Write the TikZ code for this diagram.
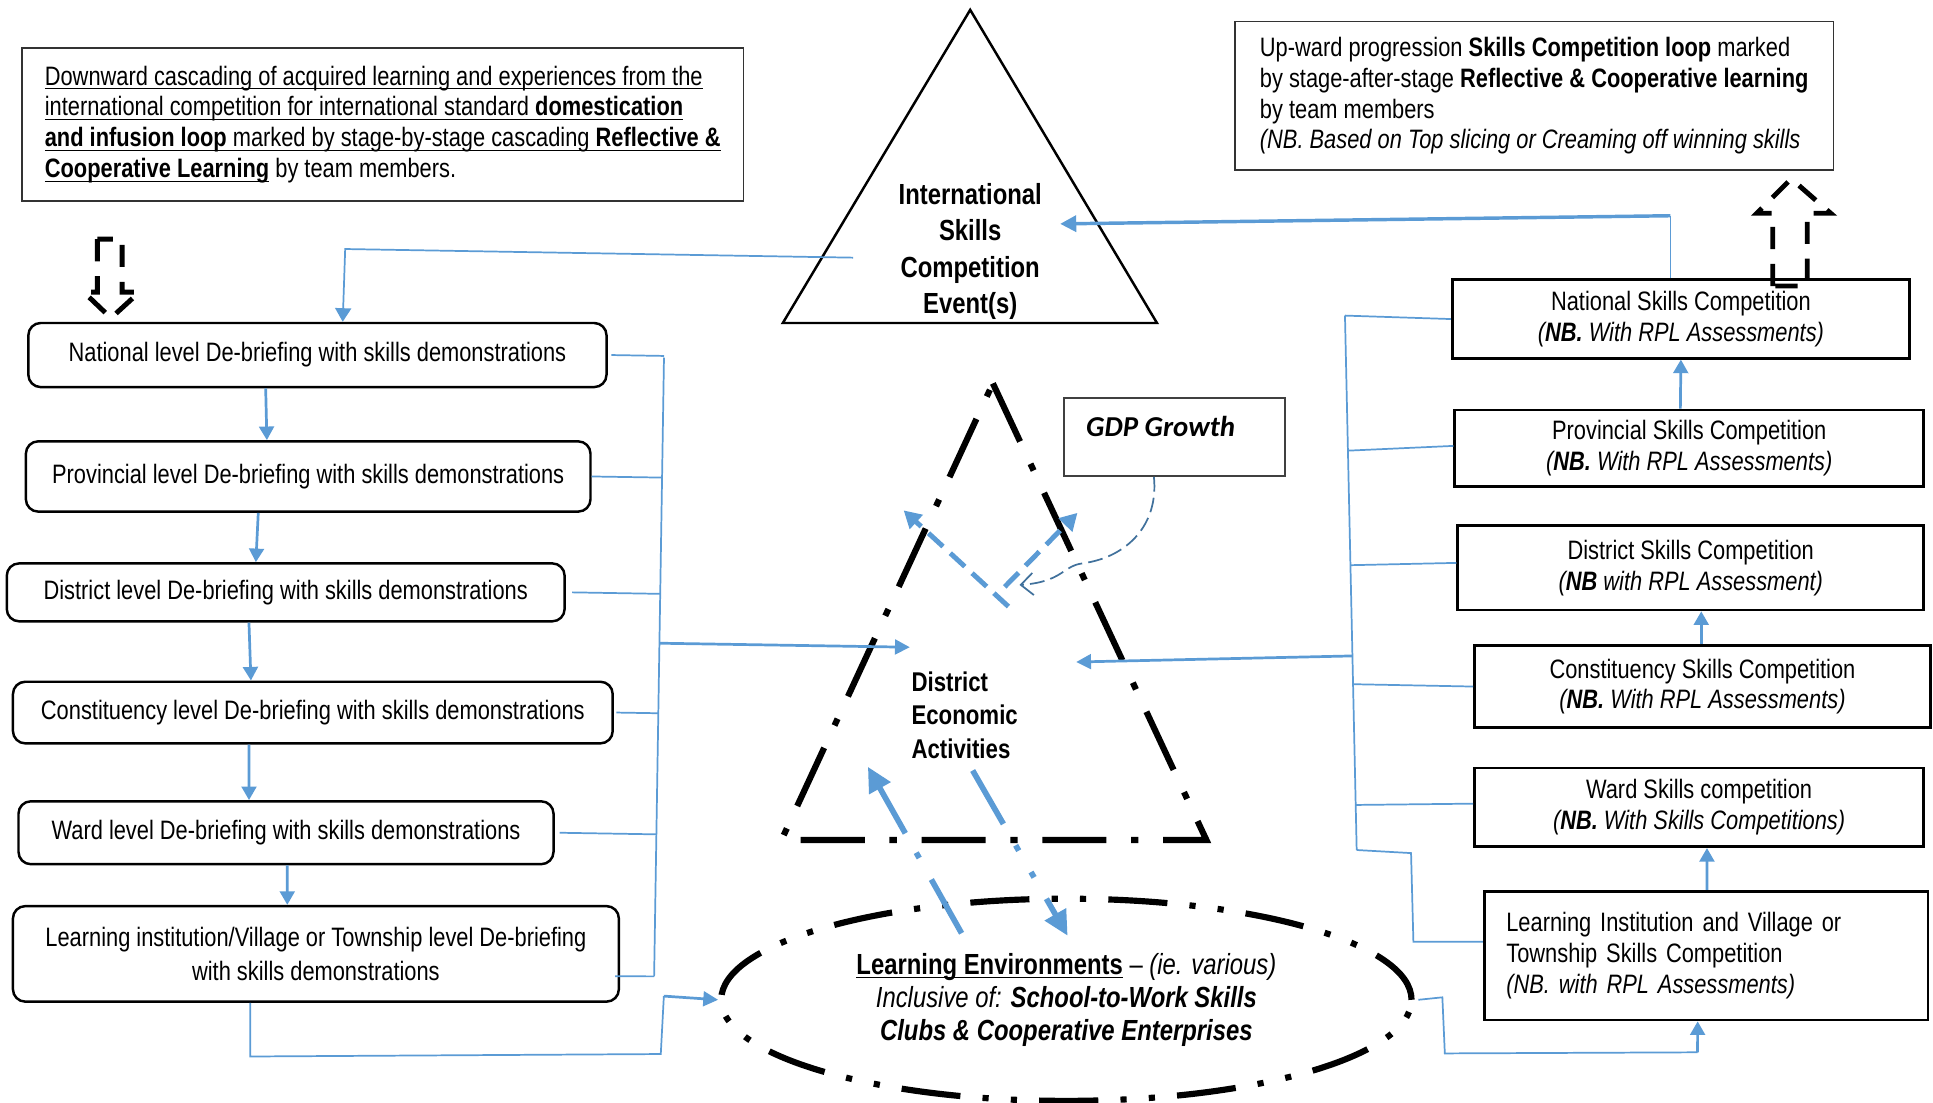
\documentclass[tikz,border=0pt]{standalone}
\usepackage{fontspec}
\setmainfont{Liberation Sans}[FakeStretch=0.82]
\newfontfamily\gdpfont{Carlito}
\usetikzlibrary{arrows.meta,shapes.geometric,calc}
\definecolor{bl}{HTML}{5B9BD5}
\definecolor{bld}{HTML}{41719C}
\newcommand{\myul}[1]{\underline{\raisebox{0pt}[\height][0pt]{#1}}}
\tikzset{
  lbox/.style={draw, line width=1pt, rounded corners=5pt, inner sep=0pt, align=center, font=\fontsize{10.8}{12.5}\selectfont},
  rbox/.style={draw, line width=1.1pt, inner sep=0pt, align=center, font=\fontsize{10.8}{12.4}\selectfont},
  notebox/.style={draw=black!80, line width=0.6pt, inner sep=0pt, align=left, font=\fontsize{10.8}{12.5}\selectfont},
  conn/.style={color=bl, line width=0.7pt},
  arr/.style={color=bl, line width=1.1pt, -{Triangle[length=5.5pt,width=6pt]}},
  arrm/.style={color=bl, line width=1.1pt, -{Triangle[length=6pt,width=6pt]}},
  arrt/.style={color=bl, line width=1.4pt, -{Triangle[length=6.5pt,width=6.5pt]}},
  dasharr/.style={color=bl, line width=2pt, dash pattern=on 8pt off 4pt, -{Triangle[length=7pt,width=7.5pt]}},
  uaarr/.style={color=bl, line width=2.3pt, dash pattern=on 25pt off 10pt on 2.5pt off 9pt, -{Triangle[length=10pt,width=9.5pt]}},
  daarr/.style={color=bl, line width=2.3pt, dash pattern=on 25pt off 10pt on 2.5pt off 10pt on 2.5pt off 10pt, -{Triangle[length=10pt,width=9.5pt]}},
  gdparr/.style={color=bld, line width=0.7pt, dash pattern=on 6pt off 2.5pt, -{Straight Barb[length=5pt,width=9pt]}},
  blkdash/.style={draw=black, line width=2pt, dash pattern=on 9pt off 6pt},
  dtri/.style={draw=black, line width=2.5pt, dash pattern=on 26pt off 10pt on 3pt off 10pt},
  envell/.style={ellipse, draw, line width=2.5pt, dash pattern=on 24pt off 9pt on 2.5pt off 9pt on 2.5pt off 9pt, minimum width=280pt, minimum height=82pt, inner sep=0pt, align=center, font=\fontsize{11.8}{13.5}\selectfont},
  gdpbox/.style={draw=black!75, line width=0.8pt, inner sep=0pt}
}
\begin{document}
\begin{tikzpicture}[x=0.5pt,y=-0.5pt]
\useasboundingbox (0,0) rectangle (1568,894);

% note boxes
\node[notebox, minimum width=292.5pt, minimum height=62pt] (lnote) at (310.5,101)
 {\myul{Downward cascading of acquired learning and experiences from the}\\
  \myul{international competition for international standard \textbf{domestication}}\\
  \myul{\textbf{and infusion loop} marked by stage-by-stage cascading \textbf{Reflective \&}}\\
  \myul{\textbf{Cooperative Learning}} by team members.};
\node[notebox, minimum width=242.75pt, minimum height=60.15pt] (rnote) at (1244.5,77.75)
 {Up-ward progression \textbf{Skills Competition loop} marked\\
  by stage-after-stage \textbf{Reflective \& Cooperative learning}\\
  by team members\\
  \textit{(NB. Based on Top slicing or Creaming off winning skills}};

% international triangle
\coordinate (ia) at (787,8);
\coordinate (ibl) at (635,262);
\coordinate (ibr) at (938.5,262);
\draw[line width=1pt] (ia) -- (ibr) -- (ibl) -- cycle;
\node[font=\bfseries\fontsize{11.8}{14.7}\selectfont, align=center, inner sep=0pt] (intl) at (787,204)
 {International\\Skills\\Competition\\Event(s)};

% district economic triangle
\coordinate (dta) at (805.4,311);
\coordinate (dtbl) at (633.9,681.4);
\coordinate (dtbr) at (978.6,681.4);
\draw[dtri] (dta) -- (dtbr) -- (dtbl) -- cycle;
\node[font=\bfseries\fontsize{11}{13.5}\selectfont, align=left, anchor=west, inner sep=0pt] (dea) at (739,580)
 {District\\Economic\\Activities};

% GDP
\node[gdpbox, minimum width=89.5pt, minimum height=31.7pt] (gdp) at (952.8,354.3) {};
\node[anchor=west, inner sep=0pt, font=\gdpfont\bfseries\itshape\fontsize{11.7}{14}\selectfont] (gdpt) at (880.7,346) {GDP Growth};

% ellipse
\node[envell] (le) at (865,811)
 {\myul{\textbf{Learning Environments}} \textendash{} \textit{(ie. various)}\\
  \textit{Inclusive of: \textbf{School-to-Work Skills}}\\
  \textbf{\textit{Clubs \& Cooperative Enterprises}}};

% left boxes
\node[lbox, minimum width=234.5pt, minimum height=26pt] (lb1) at (257.5,288) {National level De-briefing with skills demonstrations};
\node[lbox, minimum width=229pt, minimum height=28.5pt] (lb2) at (250,386.5) {Provincial level De-briefing with skills demonstrations};
\node[lbox, minimum width=226.25pt, minimum height=23.5pt] (lb3) at (231.75,480.5) {District level De-briefing with skills demonstrations};
\node[lbox, minimum width=243.25pt, minimum height=25pt] (lb4) at (253.75,578) {Constituency level De-briefing with skills demonstrations};
\node[lbox, minimum width=217pt, minimum height=25.5pt] (lb5) at (232,675.5) {Ward level De-briefing with skills demonstrations};
\node[lbox, minimum width=245.75pt, minimum height=38.75pt, font=\fontsize{10.8}{13.5}\selectfont] (lb6) at (256.25,773.75) {Learning institution/Village or Township level De-briefing\\with skills demonstrations};

% right boxes
\node[rbox, minimum width=185.5pt, minimum height=31.8pt] (rb1) at (1363.5,258.8) {National Skills Competition\\\textit{(\textbf{NB.} With RPL Assessments)}};
\node[rbox, minimum width=190.25pt, minimum height=31.1pt] (rb2) at (1370.25,363.7) {Provincial Skills Competition\\\textit{(\textbf{NB.} With RPL Assessments)}};
\node[rbox, minimum width=189pt, minimum height=34.2pt] (rb3) at (1371.5,460.6) {District Skills Competition\\\textit{(\textbf{NB} with RPL Assessment)}};
\node[rbox, minimum width=185pt, minimum height=33.2pt] (rb4) at (1381,556.9) {Constituency Skills Competition\\\textit{(\textbf{NB.} With RPL Assessments)}};
\node[rbox, minimum width=182.25pt, minimum height=31.9pt] (rb5) at (1378.25,654.9) {Ward Skills competition\\\textit{(\textbf{NB.} With Skills Competitions)}};
\node[rbox, align=left, text width=162pt, inner xsep=9pt, minimum height=52.2pt] (rb6) at (1383.9,775.2) {Learning Institution and Village or\\Township Skills Competition\\\textit{(NB. with RPL Assessments)}};

% left cascade arrows
\draw[arr] ([xshift=-21pt]lb1.south) -- ([xshift=-16.75pt]lb2.north);
\draw[arr] ([xshift=-20.25pt]lb2.south) -- ([xshift=-12.1pt]lb3.north);
\draw[arr] ([xshift=-14.9pt]lb3.south) -- ([xshift=-25.1pt]lb4.north);
\draw[arr] ([xshift=-25.9pt]lb4.south) -- ([xshift=-15pt]lb5.north);
\draw[arr] ([xshift=0.5pt]lb5.south) -- ([xshift=-11.6pt]lb6.north);

% international -> national debriefing
\coordinate (itl) at (692,209);
\coordinate (ilc) at (280,202);
\draw[conn, -{Triangle[length=5.5pt,width=6.5pt]}] (itl) -- (ilc) -- ([xshift=10.25pt]lb1.north);

% left bracket
\coordinate (lv1) at (538.6,290);
\coordinate (lv2) at (530.6,792);
\draw[conn] (lv1) -- (lv2);
\draw[conn] ([xshift=1.5pt]lb1.east) -- ($(lv1)!(lb1.east)!(lv2)$);
\draw[conn] (lb2.east) -- ($(lv1)!(lb2.east)!(lv2)$);
\draw[conn] ([xshift=2.5pt]lb3.east) -- ($(lv1)!(lb3.east)!(lv2)$);
\draw[conn] ([xshift=1pt]lb4.east) -- ($(lv1)!(lb4.east)!(lv2)$);
\draw[conn] ([xshift=2pt]lb5.east) -- ($(lv1)!(lb5.east)!(lv2)$);
\draw[conn] ([yshift=-9.1pt,xshift=-2pt]lb6.east) -- (lv2);
\coordinate (dtl) at (738,525);
\draw[arrm] ($(lv1)!(dtl)!(lv2)$) -- (dtl);

% bottom-left loop to ellipse
\coordinate (bl1) at (203,857);
\coordinate (bl2) at (536,855);
\coordinate (bl3) at (538.5,808);
\draw[conn] ([xshift=-26.6pt]lb6.south) -- (bl1) -- (bl2) -- (bl3);
\draw[arrm] (bl3) -- (le.west);

% right bracket
\coordinate (rv1) at (1091,256);
\coordinate (rv2) at (1100.5,689.5);
\draw[conn] (rv1) -- (rv2);
\draw[conn] (rv1) -- (rb1.west);
\draw[conn] ($(rv1)!(rb2.west)!(rv2)$) -- ([yshift=1pt]rb2.west);
\draw[conn] ($(rv1)!([yshift=2pt]rb3.west)!(rv2)$) -- ([yshift=2pt]rb3.west);
\draw[conn] ($(rv1)!([yshift=2pt]rb4.west)!(rv2)$) -- (rb4.west);
\draw[conn] ($(rv1)!([yshift=2pt]rb5.west)!(rv2)$) -- ([yshift=1.5pt]rb5.west);
\coordinate (rs1) at (1144.6,692);
\coordinate (rs2) at (1146.5,764);
\draw[conn] (rv2) -- (rs1) -- (rs2) -- ([yshift=5.6pt]rb6.west);
\coordinate (dtr) at (873,537);
\draw[arrm] ($(rv1)!(dtr)!(rv2)$) -- (dtr);

% right upward arrows
\draw[arr] ([xshift=-3.6pt]rb2.north) -- (rb1.south);
\draw[arr] ([xshift=-0.5pt]rb4.north) -- ([xshift=4.25pt]rb3.south);
\draw[arr] ([xshift=0.35pt]rb6.north) -- ([xshift=3.2pt]rb5.south);

% ellipse -> learning institution competition
\coordinate (re1) at (1170,809);
\coordinate (re2) at (1172,854.5);
\coordinate (re3) at (1377,853.6);
\draw[conn] ([xshift=1.5pt]le.east) -- (re1) -- (re2) -- (re3);
\draw[arr] (re3) -- ([xshift=-3.4pt]rb6.south);

% national competition -> international event
\coordinate (itr) at (1355,175);
\coordinate (itip) at (860,181.6);
\draw[conn] ([xshift=-4.25pt]rb1.north) -- (itr);
\draw[arrt] (itr) -- (itip);

% arrows inside district triangle
\coordinate (db1) at (818,492);
\coordinate (ul) at (733,414);
\coordinate (db2) at (815,476);
\coordinate (ur) at (874,416);
\draw[dasharr] (db1) -- (ul);
\draw[dasharr] (db2) -- (ur);
\coordinate (gtip) at (827,474.5);
\draw[gdparr] ([xshift=-8.4pt]gdp.south) .. controls (940,425) and (915,452) .. (878,457) .. controls (862,459) and (862,472) .. (gtip);

% ellipse <-> district triangle
\coordinate (ua0) at (780,757);
\coordinate (ua1) at (704,622);
\coordinate (da0) at (789,625);
\coordinate (da1) at (866,759);
\draw[uaarr] (ua0) -- (ua1);
\draw[daarr] (da0) -- (da1);

% dashed block arrows
\draw[blkdash] (79,194) -- (79,237) -- (68,237) -- (90,258) -- (113,237) -- (99,237) -- (99,194) -- cycle;
\draw[blkdash] (1438,232) -- (1438,173) -- (1425,173) -- (1453,145) -- (1485,173) -- (1466,173) -- (1466,232) -- cycle;
\end{tikzpicture}
\end{document}
